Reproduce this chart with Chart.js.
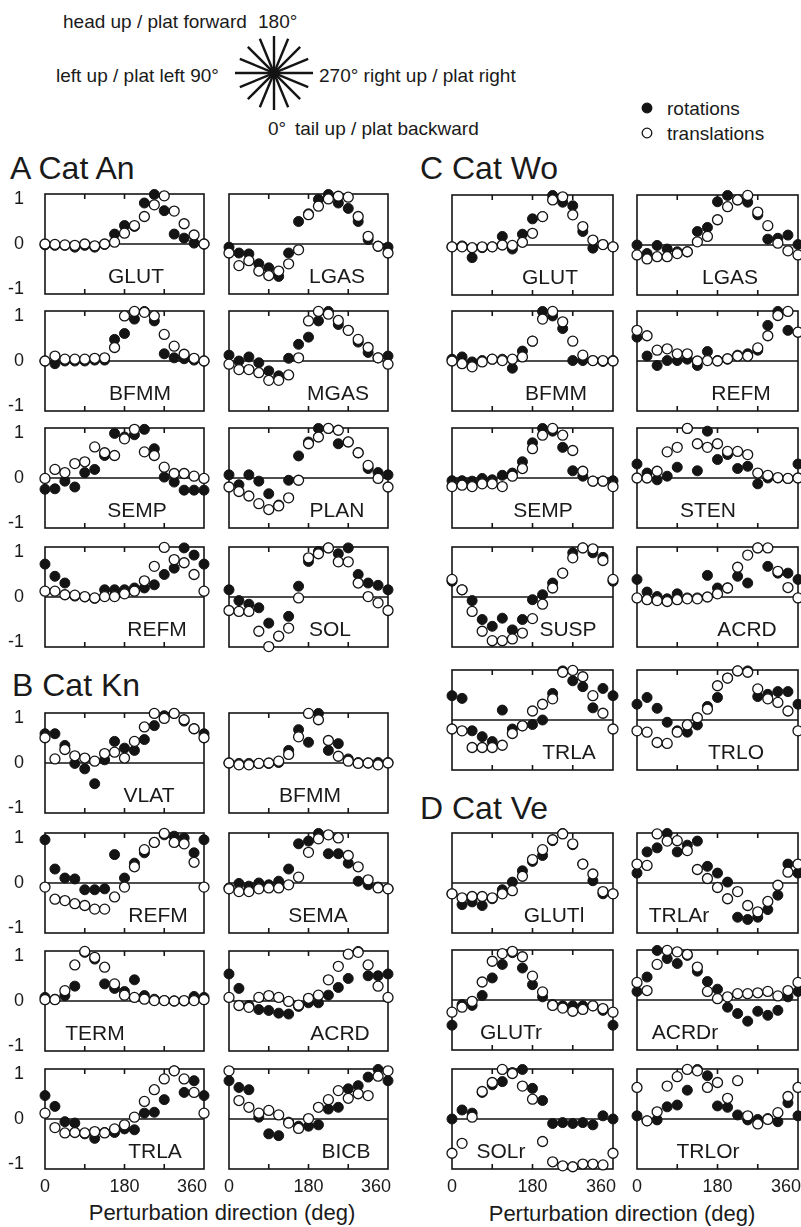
<!DOCTYPE html>
<html>
<head>
<meta charset="utf-8">
<script src="https://cdn.jsdelivr.net/npm/chart.js@4.4.1/dist/chart.umd.min.js"></script>
<style>
  body { margin: 0; background: #fff; }
  #fig { position: relative; width: 801px; height: 1227px; overflow: hidden;
         font-family: "Liberation Sans", Arial, sans-serif; color: #1a1a1a; }
  .t { position: absolute; white-space: nowrap; line-height: 1; }
  canvas { position: absolute; }
</style>
</head>
<body>
<div id="fig"></div>
<script>
// perturbation directions (deg)
const directions = [0, 22.5, 45, 67.5, 90, 112.5, 135, 157.5, 180, 202.5, 225, 247.5, 270, 292.5, 315, 337.5, 360];
const xTickValues = [0, 180, 360];
const yTickValues = [-1, 0, 1];

// A  Cat An
const anGlutRot = [-0.02,-0.03,-0.03,-0.07,-0.03,-0.07,-0.01,0.22,0.41,0.39,0.91,1.1,0.74,0.22,0.13,0.02,0.0];
const anGlutTra = [0,-0.01,-0.02,-0.03,0,-0.04,0.0,0.04,0.24,0.41,0.61,0.87,1.07,0.73,0.45,0.2,0.0];
const anLgasRot = [-0.07,-0.2,-0.22,-0.44,-0.53,-0.72,-0.2,0.5,0.67,0.99,1.1,0.91,0.79,0.5,0.1,-0.05,-0.07];
const anLgasTra = [-0.2,-0.48,-0.37,-0.6,-0.7,-0.6,-0.44,-0.13,0.65,0.84,1.0,1.06,1.04,0.61,0.17,-0.05,-0.2];
const anBfmmRot = [0,-0.06,0,0,0,0.02,0.02,0.48,0.61,0.93,1.1,0.89,0.16,0.07,0.05,0.02,0];
const anBfmmTra = [0,0.11,0.04,0.04,0.04,0.06,0.07,0.3,1.0,1.1,1.08,1.0,0.59,0.33,0.15,0.06,0];
const anMgasRot = [0.13,0,0.09,-0.04,-0.22,-0.33,0.06,0.37,0.53,0.89,1.1,0.81,0.68,0.42,0.19,0.07,0.11];
const anMgasTra = [-0.07,-0.19,-0.19,-0.26,-0.43,-0.43,-0.31,0.07,0.89,1.1,1.04,0.9,0.68,0.48,0.3,0.07,-0.07];
const anSempRot = [-0.25,-0.24,-0.07,-0.2,0.12,0.19,0.5,0.99,0.91,0.96,1.08,0.65,0.02,-0.09,-0.27,-0.27,-0.27];
const anSempTra = [-0.01,0.19,0.12,0.32,0.36,0.69,0.56,0.5,0.87,1.08,0.58,0.5,0.24,0.1,0.1,0.04,-0.01];
const anPlanRot = [0.07,-0.15,0.07,-0.07,-0.35,-0.6,-0.05,0.49,0.8,1.1,1.1,0.76,0.8,0.56,0.21,0.12,0.07];
const anPlanTra = [-0.2,-0.3,-0.4,-0.57,-0.7,-0.62,-0.44,-0.05,0.76,0.91,1.1,1.06,0.8,0.56,0.28,-0.01,-0.2];
const anRefmRot = [0.73,0.46,0.31,0.02,0,-0.03,0.16,0.16,0.16,0.2,0.2,0.27,0.5,0.64,1.09,0.93,0.73];
const anRefmTra = [0.13,0.13,0.05,0.04,0.01,-0.02,0.01,0.01,0.07,0.13,0.36,0.68,1.1,0.83,0.76,0.5,0.13];
const anSolRot = [0.16,-0.08,-0.16,-0.24,-0.58,-0.87,-0.43,0.24,0.79,1.01,1.09,0.96,1.09,0.5,0.31,0.26,0.16];
const anSolTra = [-0.3,-0.32,-0.32,-0.76,-1.1,-0.87,-0.69,-0.02,0.87,0.96,1.09,0.78,0.78,0.31,0.01,-0.13,-0.3];

// B  Cat Kn
const knVlatRot = [0.65,0.65,0.39,-0.01,-0.13,-0.46,0.07,0.48,0.33,0.28,0.52,0.83,1.05,1.1,0.93,0.76,0.65];
const knVlatTra = [0.56,0.09,0.3,0.16,0.11,0.04,0.21,0.24,0.11,0.48,0.8,1.1,0.99,1.1,0.96,0.76,0.56];
const knBfmmRot = [0,-0.01,-0.01,-0.01,-0.01,0.01,0.28,0.74,0.46,1.1,0.28,0.43,0.09,0.01,0,0.01,0.01];
const knBfmmTra = [0,-0.04,-0.04,-0.01,0,0.04,0.19,0.58,1.1,0.96,0.5,0.15,0.04,-0.01,0,-0.04,0];
const knRefmRot = [0.96,0.31,0.11,0.09,-0.15,-0.15,-0.13,0.63,0.11,0.44,0.67,0.9,1.07,1.04,1.0,0.67,0.96];
const knRefmTra = [-0.09,-0.36,-0.39,-0.46,-0.5,-0.58,-0.58,-0.31,-0.09,0.36,0.74,0.9,1.1,0.9,0.87,0.46,-0.09];
const knSemaRot = [-0.11,-0.01,-0.07,0,-0.04,0.04,0.31,0.87,0.93,1.1,0.65,0.65,0.44,0.04,-0.04,-0.09,-0.13];
const knSemaTra = [-0.13,-0.19,-0.19,-0.13,-0.11,-0.11,-0.04,0.13,0.68,0.98,1.07,1.0,0.61,0.36,0.07,-0.11,-0.13];
const knTermRot = [0.08,0.04,0.12,0.33,1.08,0.93,0.38,0.28,0.21,0.47,0.12,0.04,0.01,0,0,0.1,0.08];
const knTermTra = [0.03,0.03,0.23,0.8,1.1,0.97,0.75,0.38,0.13,0.08,0.04,0.01,0.01,0,0.01,0.01,0.03];
const knAcrdRot = [0.6,0.28,-0.1,-0.19,-0.21,-0.27,-0.29,-0.12,-0.04,-0.04,0.13,0.3,0.5,1.1,0.56,0.56,0.6];
const knAcrdTra = [0.08,-0.1,-0.14,0.08,0.12,0.08,-0.01,-0.09,0.06,0.13,0.47,0.77,1.04,1.08,0.8,0.33,0.08];
const knTrlaRot = [0.52,0.28,-0.06,-0.09,-0.33,-0.43,-0.3,-0.3,-0.22,-0.24,0.13,0.15,0.43,1.07,0.59,0.85,0.52];
const knTrlaTra = [0.13,-0.19,-0.31,-0.3,-0.31,-0.28,-0.31,-0.22,-0.13,0.04,0.39,0.65,0.89,1.07,0.89,0.59,0.13];
const knBicbRot = [0.85,0.7,0.65,0.04,-0.33,-0.37,-0.07,-0.16,-0.16,-0.13,0.22,0.26,0.67,0.74,0.93,1.1,0.85];
const knBicbTra = [1.07,0.41,0.26,0.13,0.19,0.09,-0.09,-0.21,0.01,0.26,0.43,0.63,0.46,0.56,0.52,0.95,1.07];

// C  Cat Wo
const woGlutRot = [-0.04,-0.02,-0.28,-0.06,-0.04,0.19,-0.09,0.24,0.58,0.63,1.1,0.95,0.87,0.3,-0.07,0.01,-0.04];
const woGlutTra = [-0.04,-0.04,-0.06,-0.04,-0.04,0,-0.01,0.06,0.26,0.63,1.0,1.07,0.67,0.41,0.11,0.01,-0.04];
const woLgasRot = [0,-0.19,-0.01,-0.09,-0.15,-0.15,0.3,0.39,0.96,1.1,1.0,0.95,0.67,0.13,0.15,0.22,0.01];
const woLgasTra = [-0.22,-0.31,-0.26,-0.26,-0.19,-0.15,0.07,0.19,0.56,0.85,1.0,1.1,0.73,0.43,0.04,-0.13,-0.22];
const woBfmmRot = [0.04,0.09,-0.02,0.01,0.04,0.04,-0.16,0.22,0.44,1.1,1.0,0.72,0.01,0.01,0.01,-0.01,0.01];
const woBfmmTra = [0,-0.06,-0.13,-0.02,0.04,0.01,0.04,0.09,0.44,0.93,1.1,0.87,0.44,0.13,0.01,0.01,0];
const woRefmRot = [0.53,0.11,-0.1,0.01,0.01,0.04,-0.1,0.21,0.01,0.04,0.13,0.16,0.24,0.79,1.1,0.68,0.64];
const woRefmTra = [0.68,0.56,0.24,0.27,0.16,0.16,0,0.01,0,0.05,0.11,0.11,0.29,0.56,1.01,1.1,0.64];
const woSempRot = [-0.06,-0.06,-0.07,-0.01,-0.04,0.06,0.11,0.36,0.78,1.1,1.04,0.68,0.16,0.04,-0.07,-0.07,-0.06];
const woSempTra = [-0.19,-0.16,-0.19,-0.13,-0.13,-0.19,0.04,0.21,0.65,0.95,1.1,0.95,0.61,0.15,-0.07,-0.07,-0.19];
const woStenRot = [0.31,0.11,-0.04,0.04,0.24,1.1,0.16,1.04,0.41,0.52,0.21,0.26,-0.13,0,0,-0.01,0.31];
const woStenTra = [0,0,0.15,0.58,0.68,1.1,0.76,0.68,0.76,0.59,0.59,0.52,0.11,0.06,0.01,-0.01,0];
const woSuspRot = [0.35,0.16,-0.08,-0.5,-0.65,-0.47,-0.73,-0.5,-0.06,0.05,0.31,0.53,0.98,1.09,0.98,0.88,0.35];
const woSuspTra = [0.39,0.16,-0.32,-0.76,-0.97,-0.97,-0.93,-0.8,-0.48,-0.16,0.2,0.53,0.87,1.09,1.07,0.81,0.39];
const woAcrdRot = [0.39,0.11,0.01,-0.04,0.07,-0.02,-0.02,0.48,0.2,0.2,0.46,0.31,1.09,0.68,0.53,0.53,0.39];
const woAcrdTra = [-0.02,-0.06,-0.08,-0.1,-0.06,-0.04,-0.04,0,0.07,0.2,0.66,0.93,1.09,1.09,0.57,0.21,-0.02];
const woTrlaRot = [0.54,0.48,-0.24,-0.37,-0.48,0.22,-0.2,-0.13,-0.1,0,0.59,1.09,0.87,0.74,0.27,0.7,0.54];
const woTrlaTra = [-0.2,-0.24,-0.61,-0.61,-0.61,-0.56,-0.3,-0.13,0.2,0.35,0.47,1.06,1.1,0.96,0.54,0.15,-0.2];
const woTrloRot = [0.35,0.5,0.26,-0.05,-0.24,-0.27,-0.11,0.3,0.5,0.93,1.09,1.09,0.52,0.57,0.63,0.63,0.35];
const woTrloTra = [-0.24,-0.27,-0.5,-0.52,-0.27,-0.11,0.05,0.24,0.76,0.93,1.09,1.06,0.69,0.47,0.39,0.2,-0.24];

// D  Cat Ve
const veGlutlRot = [-0.24,-0.48,-0.42,-0.5,-0.35,-0.15,0.02,0.27,0.48,0.61,0.94,1.1,0.85,0.42,0.05,-0.24,-0.24];
const veGlutlTra = [-0.24,-0.33,-0.3,-0.3,-0.33,-0.24,-0.17,0.15,0.52,0.74,0.96,1.09,0.87,0.42,0.2,-0.19,-0.24];
const veTrlarRot = [0.22,0.69,0.78,1.1,0.69,0.84,0.93,0.37,0.22,0.02,-0.76,-0.81,-0.76,-0.59,-0.27,0.42,0.22];
const veTrlarTra = [0.42,0.39,1.09,0.93,0.94,0.72,0.3,0.1,-0.1,-0.35,-0.19,-0.5,-0.64,-0.41,-0.05,0.24,0.42];
const veGlutrRot = [-0.56,-0.1,-0.12,0.1,0.49,0.79,1.05,0.71,0.34,0.07,-0.1,-0.13,-0.13,-0.13,-0.13,-0.23,-0.56];
const veGlutrTra = [-0.27,-0.16,-0.03,0.4,0.86,1.03,1.08,0.96,0.53,0.18,-0.12,-0.18,-0.25,-0.21,-0.13,-0.19,-0.27];
const veAcrdrRot = [0.19,0.51,1.1,0.92,0.81,0.99,0.64,0.41,0.24,-0.16,-0.3,-0.47,-0.25,-0.34,-0.23,0.07,0.19];
const veAcrdrTra = [0.39,0.21,0.79,1.1,1.07,1.01,0.73,0.19,0.03,0.07,0.14,0.14,0.16,0.19,0.09,0.21,0.39];
const veSolrRot = [0,0.2,0.13,0.59,0.76,0.83,1.03,1.1,0.68,0.41,-0.1,-0.08,-0.1,-0.08,-0.13,0.07,0];
const veSolrTra = [-0.76,-0.54,0.04,0.61,0.81,1.1,1.01,0.73,0.44,-0.5,-0.95,-1.04,-1.06,-1.0,-1.0,-1.02,-0.76];
const veTrlorRot = [0.07,-0.04,-0.02,0.27,0.31,0.64,1.1,0.96,0.29,0.26,0.09,-0.02,-0.01,0.01,-0.06,0.36,0.07];
const veTrlorTra = [0.7,-0.04,0.16,0.73,0.94,1.1,1.07,0.7,0.81,0.46,0.85,0.07,-0.11,-0.01,0.14,0.5,0.7];

// layout: frame columns and panels (zero = pixel row of the 0 line, lx = label centre)
const colLeft = [45, 229, 452, 637];
const colWidth = [159, 159, 161, 161];
const panels = [
  { name: 'GLUT', rot: anGlutRot, tra: anGlutTra, col: 0, zero: 244, lx: 136 },
  { name: 'LGAS', rot: anLgasRot, tra: anLgasTra, col: 1, zero: 244, lx: 337 },
  { name: 'BFMM', rot: anBfmmRot, tra: anBfmmTra, col: 0, zero: 361, lx: 140 },
  { name: 'MGAS', rot: anMgasRot, tra: anMgasTra, col: 1, zero: 361, lx: 338 },
  { name: 'SEMP', rot: anSempRot, tra: anSempTra, col: 0, zero: 478, lx: 137 },
  { name: 'PLAN', rot: anPlanRot, tra: anPlanTra, col: 1, zero: 478, lx: 337 },
  { name: 'REFM', rot: anRefmRot, tra: anRefmTra, col: 0, zero: 597, lx: 157 },
  { name: 'SOL',  rot: anSolRot,  tra: anSolTra,  col: 1, zero: 597, lx: 330 },

  { name: 'VLAT', rot: knVlatRot, tra: knVlatTra, col: 0, zero: 763, lx: 149 },
  { name: 'BFMM', rot: knBfmmRot, tra: knBfmmTra, col: 1, zero: 763, lx: 310 },
  { name: 'REFM', rot: knRefmRot, tra: knRefmTra, col: 0, zero: 883, lx: 158 },
  { name: 'SEMA', rot: knSemaRot, tra: knSemaTra, col: 1, zero: 883, lx: 318 },
  { name: 'TERM', rot: knTermRot, tra: knTermTra, col: 0, zero: 1001, lx: 95 },
  { name: 'ACRD', rot: knAcrdRot, tra: knAcrdTra, col: 1, zero: 1001, lx: 340 },
  { name: 'TRLA', rot: knTrlaRot, tra: knTrlaTra, col: 0, zero: 1119, lx: 155, bottom: true },
  { name: 'BICB', rot: knBicbRot, tra: knBicbTra, col: 1, zero: 1119, lx: 346, bottom: true },

  { name: 'GLUT', rot: woGlutRot, tra: woGlutTra, col: 2, zero: 245, lx: 550 },
  { name: 'LGAS', rot: woLgasRot, tra: woLgasTra, col: 3, zero: 245, lx: 730 },
  { name: 'BFMM', rot: woBfmmRot, tra: woBfmmTra, col: 2, zero: 361, lx: 556 },
  { name: 'REFM', rot: woRefmRot, tra: woRefmTra, col: 3, zero: 361, lx: 741 },
  { name: 'SEMP', rot: woSempRot, tra: woSempTra, col: 2, zero: 478, lx: 543 },
  { name: 'STEN', rot: woStenRot, tra: woStenTra, col: 3, zero: 478, lx: 708 },
  { name: 'SUSP', rot: woSuspRot, tra: woSuspTra, col: 2, zero: 597, lx: 568 },
  { name: 'ACRD', rot: woAcrdRot, tra: woAcrdTra, col: 3, zero: 597, lx: 747 },
  { name: 'TRLA', rot: woTrlaRot, tra: woTrlaTra, col: 2, zero: 720, lx: 569 },
  { name: 'TRLO', rot: woTrloRot, tra: woTrloTra, col: 3, zero: 720, lx: 736 },

  { name: 'GLUTl', rot: veGlutlRot, tra: veGlutlTra, col: 2, zero: 883, lx: 554 },
  { name: 'TRLAr', rot: veTrlarRot, tra: veTrlarTra, col: 3, zero: 883, lx: 679 },
  { name: 'GLUTr', rot: veGlutrRot, tra: veGlutrTra, col: 2, zero: 1000, lx: 511 },
  { name: 'ACRDr', rot: veAcrdrRot, tra: veAcrdrTra, col: 3, zero: 1000, lx: 685 },
  { name: 'SOLr',  rot: veSolrRot,  tra: veSolrTra,  col: 2, zero: 1119, lx: 501, bottom: true },
  { name: 'TRLOr', rot: veTrlorRot, tra: veTrlorTra, col: 3, zero: 1119, lx: 708, bottom: true }
];

const fig = document.getElementById('fig');
const ink = '#141414';
const fontFamily = '"Liberation Sans", Arial, sans-serif';

function addText(str, x, y, size, center) {
  const d = document.createElement('div');
  d.className = 't';
  d.textContent = str;
  d.style.left = x + 'px';
  d.style.top = y + 'px';
  d.style.fontSize = size + 'px';
  d.style.transform = center ? 'translate(-50%,-50%)' : 'translateY(-50%)';
  fig.appendChild(d);
}

// header: direction key (star) and legend
const svgNS = 'http://www.w3.org/2000/svg';
const svg = document.createElementNS(svgNS, 'svg');
svg.setAttribute('width', 801); svg.setAttribute('height', 190);
svg.style.position = 'absolute'; svg.style.left = '0'; svg.style.top = '0';
const cx = 274, cy = 73;
for (let k = 0; k < 8; k++) {
  const a = k * Math.PI / 8, r = k === 0 ? 39 : 37;
  const ln = document.createElementNS(svgNS, 'line');
  ln.setAttribute('x1', cx - r * Math.cos(a)); ln.setAttribute('y1', cy - r * Math.sin(a));
  ln.setAttribute('x2', cx + r * Math.cos(a)); ln.setAttribute('y2', cy + r * Math.sin(a));
  ln.setAttribute('stroke', ink); ln.setAttribute('stroke-width', 2.4);
  svg.appendChild(ln);
}
[[108, ink], [133, '#fff']].forEach(([y, fill]) => {
  const c = document.createElementNS(svgNS, 'circle');
  c.setAttribute('cx', 647); c.setAttribute('cy', y); c.setAttribute('r', 4.8);
  c.setAttribute('fill', fill); c.setAttribute('stroke', ink); c.setAttribute('stroke-width', 1.3);
  svg.appendChild(c);
});
fig.appendChild(svg);

addText('head up / plat forward', 63, 21, 19);
addText('180°', 258, 21, 19);
addText('left up / plat left  90°', 56, 75, 19);
addText('270°  right up / plat right', 319, 75, 19);
addText('0°', 268, 128, 19);
addText('tail up / plat backward', 295, 128, 19);
addText('rotations', 667, 108, 19);
addText('translations', 667, 133, 19);

addText('A Cat An', 10, 168, 32);
addText('C Cat Wo', 420, 168, 32);
addText('B Cat Kn', 12, 685, 32);
addText('D Cat Ve', 420, 808, 32);
addText('Perturbation direction (deg)', 222, 1213, 22, true);
addText('Perturbation direction (deg)', 622, 1214, 22, true);

// frame, zero line and inner ticks, drawn with the chart's scales
const framePlugin = {
  id: 'frame',
  beforeDatasetsDraw(chart) {
    const { ctx, chartArea: a, scales: { x, y } } = chart;
    ctx.save();
    ctx.strokeStyle = ink;
    ctx.lineWidth = 1.6;
    ctx.strokeRect(a.left, a.top, a.right - a.left, a.bottom - a.top);
    const y0 = y.getPixelForValue(0);
    ctx.beginPath();
    ctx.moveTo(a.left, y0); ctx.lineTo(a.right, y0);
    [90, 180, 270].forEach(v => {
      const px = x.getPixelForValue(v);
      ctx.moveTo(px, a.top); ctx.lineTo(px, a.top + 5);
      ctx.moveTo(px, a.bottom); ctx.lineTo(px, a.bottom - 5);
    });
    ctx.stroke();
    ctx.restore();
  }
};

// x tick labels under the bottom row: 0 and 180 centred, 360 kept inside the frame edge
const xLabelPlugin = {
  id: 'xlabels',
  afterDraw(chart) {
    const { ctx, chartArea: a, scales: { x } } = chart;
    ctx.save();
    ctx.fillStyle = '#1a1a1a';
    ctx.font = '18px ' + fontFamily;
    ctx.textBaseline = 'middle';
    xTickValues.forEach(v => {
      const px = x.getPixelForValue(v);
      if (v === 360) { ctx.textAlign = 'right'; ctx.fillText(String(v), px + 3, a.bottom + 18); }
      else { ctx.textAlign = 'center'; ctx.fillText(String(v), px, a.bottom + 18); }
    });
    ctx.restore();
  }
};

function makePanel(p) {
  const fx = colLeft[p.col], fw = colWidth[p.col];
  const ftop = p.zero - 50, fh = 100;
  const padL = p.col === 0 ? 45 : 10;
  const padT = 10, padR = 10;
  const padB = p.bottom ? 40 : 10;
  const canvas = document.createElement('canvas');
  canvas.width = fw + padL + padR;
  canvas.height = fh + padT + padB;
  canvas.style.left = (fx - padL) + 'px';
  canvas.style.top = (ftop - padT) + 'px';
  fig.appendChild(canvas);

  const tickFont = { family: fontFamily, size: 18 };
  new Chart(canvas, {
    type: 'scatter',
    data: {
      datasets: [
        {
          label: 'translations',
          data: directions.map((d, i) => ({ x: d, y: p.tra[i] })),
          pointRadius: 5, pointBackgroundColor: '#fff', pointBorderColor: ink,
          pointBorderWidth: 1.3, clip: false, order: 0
        },
        {
          label: 'rotations',
          data: directions.map((d, i) => ({ x: d, y: p.rot[i] })),
          pointRadius: 5, pointBackgroundColor: ink, pointBorderColor: ink,
          pointBorderWidth: 1, clip: false, order: 1
        }
      ]
    },
    options: {
      responsive: false,
      animation: false,
      devicePixelRatio: 1,
      events: [],
      layout: { padding: { top: padT, right: padR, left: 0, bottom: 0 } },
      plugins: { legend: { display: false }, tooltip: { enabled: false } },
      scales: {
        x: {
          type: 'linear', min: 0, max: 360,
          grid: { display: false, drawTicks: false },
          border: { display: false },
          afterBuildTicks: s => { s.ticks = xTickValues.map(v => ({ value: v })); },
          afterFit: s => { s.height = padB; s.paddingLeft = 0; s.paddingRight = 0; },
          ticks: { display: false }
        },
        y: {
          type: 'linear', min: -1.11, max: 1.11,
          grid: { display: false, drawTicks: false },
          border: { display: false },
          afterBuildTicks: s => { s.ticks = yTickValues.map(v => ({ value: v })); },
          afterFit: s => { s.width = padL; s.paddingTop = 0; s.paddingBottom = 0; },
          ticks: { display: p.col === 0, color: '#1a1a1a', font: tickFont, padding: 21 }
        }
      }
    },
    plugins: p.bottom ? [framePlugin, xLabelPlugin] : [framePlugin]
  });

  addText(p.name, p.lx, p.zero + 31, 21, true);
}

panels.forEach(makePanel);
</script>
</body>
</html>
